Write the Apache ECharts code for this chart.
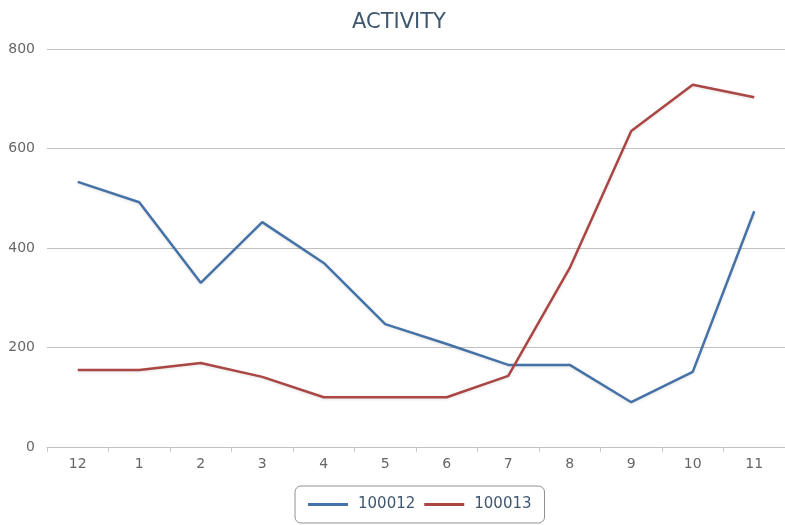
<!DOCTYPE html>
<html>
<head>
<meta charset="utf-8">
<script src="https://cdn.jsdelivr.net/npm/echarts@6/dist/echarts.min.js"></script>
<style>html,body{margin:0;padding:0;background:#fff;}#c{width:785px;height:525px;}</style>
</head>
<body>
<div id="c"></div>
<script>
var categories = ['12','1','2','3','4','5','6','7','8','9','10','11'];
var series100012 = [533, 492, 330, 452, 370, 247, 207, 165, 165, 90, 151, 474];
var series100013 = [155, 155, 169, 141, 100, 100, 100, 143, 360, 635, 728, 703];
var seriesNames = ['100012', '100013'];
var yTicks = [0, 200, 400, 600, 800];

var chart = echarts.init(document.getElementById('c'));
var font = '"DejaVu Sans", Verdana, sans-serif';
function lineSeries(name, data, color) {
  return {
    name: name, type: 'line', data: data, symbol: 'none',
    lineStyle: { color: color, width: 2.5, shadowColor: 'rgba(0,0,0,0.12)', shadowBlur: 3, shadowOffsetY: 1 },
    itemStyle: { color: color }
  };
}
chart.setOption({
  animation: false,
  title: {
    text: 'ACTIVITY', left: 352, top: 12, padding: 0,
    textStyle: { fontFamily: font, fontSize: 21, fontWeight: 'normal', color: '#3E576F' }
  },
  legend: {
    left: 295, top: 486,
    padding: [11, 13, 11, 13],
    itemGap: 9, itemWidth: 40, itemHeight: 3,
    icon: 'rect',
    borderColor: '#909090', borderWidth: 1, borderRadius: 6,
    textStyle: { fontFamily: font, fontSize: 15, color: '#3E576F', padding: [0, 0, 0, 5] },
    data: seriesNames
  },
  grid: { left: 47, top: 49, width: 746, height: 398, containLabel: false },
  xAxis: {
    type: 'category', data: categories, boundaryGap: true,
    axisLine: { lineStyle: { color: '#C0C0C0', width: 1 } },
    axisTick: { show: true, length: 5, lineStyle: { color: '#C0C8D0' } },
    axisLabel: { fontFamily: font, fontSize: 14, color: '#666', margin: 10 }
  },
  yAxis: {
    type: 'value', min: yTicks[0], max: yTicks[yTicks.length - 1], interval: 200,
    axisLine: { show: false }, axisTick: { show: false },
    axisLabel: { fontFamily: font, fontSize: 14, color: '#666', margin: 12 },
    splitLine: { lineStyle: { color: '#C0C0C0', width: 1 } }
  },
  series: [
    lineSeries(seriesNames[0], series100012, '#4572A7'),
    lineSeries(seriesNames[1], series100013, '#AA4643')
  ]
});
</script>
</body>
</html>
